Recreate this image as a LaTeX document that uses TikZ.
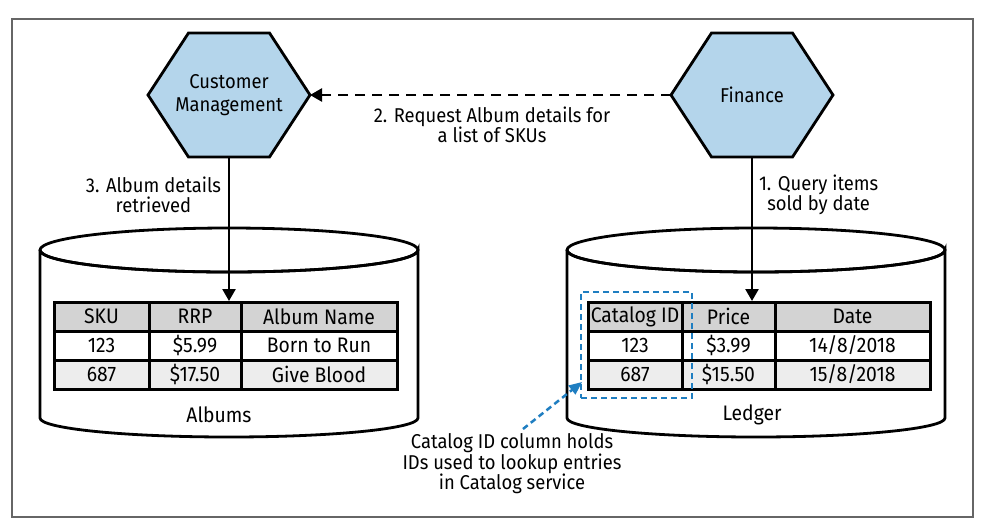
\documentclass[tikz,border=0pt]{standalone}
\usepackage{fontspec}
\setmainfont{Fira Sans}[FakeStretch=0.92]
\usetikzlibrary{arrows.meta,calc}
\definecolor{hexblue}{HTML}{B4D5EB}
\definecolor{hdrgray}{HTML}{D3D3D3}
\definecolor{rowgray}{HTML}{EDEDED}
\definecolor{noteblue}{HTML}{1F7EC1}
\begin{document}
\begin{tikzpicture}[x=1pt,y=-1pt,
  every node/.style={inner sep=0pt,outer sep=0pt},
  hexnode/.style={minimum width=162pt,minimum height=124pt,align=center,font=\fontsize{20}{23}\selectfont},
  hexline/.style={draw=black,line width=2.8pt,fill=hexblue,line join=miter},
  lbl/.style={align=center,font=\fontsize{20}{20.5}\selectfont},
  cell/.style={font=\fontsize{21}{22}\selectfont},
  dbline/.style={draw=black,line width=2.8pt},
  tbl/.style={draw=black,line width=3pt},
  conn/.style={draw=black,line width=2.5pt,-{Triangle[length=12pt,width=13pt]}},
  dconn/.style={conn,dash pattern=on 10pt off 7pt},
  bluebox/.style={draw=noteblue,line width=2.5pt,dash pattern=on 6pt off 4pt},
  blueconn/.style={draw=noteblue,line width=2.5pt,dash pattern=on 6pt off 4pt,-{Triangle[length=13pt,width=11pt]}}
]
\useasboundingbox (0,0) rectangle (984,531);
\draw[color=black!60,line width=1.4pt] (12,19) rectangle (973,517);

% hexagons
\node[hexnode] (cm) at (229,95) {};
\node[hexnode] (fin) at (752,95) {};
\foreach \h in {cm,fin}{
  \path[hexline] (\h.west) -- ($(\h.north west)!0.25!(\h.north east)$) -- ($(\h.north west)!0.75!(\h.north east)$)
    -- (\h.east) -- ($(\h.south west)!0.75!(\h.south east)$) -- ($(\h.south west)!0.25!(\h.south east)$) -- cycle;
}
\node[hexnode] (cmtext) at (229,95) {Customer\\Management};
\node[hexnode] (fintext) at (752,95) {Finance};

% cylinders
\foreach \cx/\nm in {229/alb,756/led}{
  \path[dbline,fill=white] (\cx-189,250) -- (\cx-189,418) arc[start angle=180,end angle=360,x radius=189,y radius=-19] -- (\cx+189,250)
     arc[start angle=0,end angle=180,x radius=189,y radius=22];
  \draw[dbline] (\cx,250) ellipse[x radius=189,y radius=22];
}

% Albums table
\fill[hdrgray] (54,302) rectangle (397,331);
\fill[white] (54,331) rectangle (397,360);
\fill[rowgray] (54,360) rectangle (397,389);
\draw[tbl] (54,302) rectangle (397,389);
\draw[tbl] (54,331) -- (397,331) (54,360) -- (397,360) (149,302) -- (149,389) (241,302) -- (241,389);
\node[cell] (a11) at (101.5,316.5) {SKU};
\node[cell] (a12) at (195,316.5) {RRP};
\node[cell] (a13) at (319,316.5) {Album Name};
\node[cell] (a21) at (101.5,345.5) {123};
\node[cell] (a22) at (195,345.5) {\$5.99};
\node[cell] (a23) at (319,345.5) {Born to Run};
\node[cell] (a31) at (101.5,374.5) {687};
\node[cell] (a32) at (195,374.5) {\$17.50};
\node[cell] (a33) at (319,374.5) {Give Blood};
\node[cell] (albname) at (219,415) {Albums};
\coordinate (albtop) at (229,301);

% Ledger table
\fill[hdrgray] (588,302) rectangle (930,331);
\fill[white] (588,331) rectangle (930,360);
\fill[rowgray] (588,360) rectangle (930,389);
\draw[tbl] (588,302) rectangle (930,389);
\draw[tbl] (588,331) -- (930,331) (588,360) -- (930,360) (682,302) -- (682,389) (775,302) -- (775,389);
\node[cell] (l11) at (635,316.5) {Catalog ID};
\node[cell] (l12) at (728.5,316.5) {Price};
\node[cell] (l13) at (852.5,316.5) {Date};
\node[cell] (l21) at (635,345.5) {123};
\node[cell] (l22) at (728.5,345.5) {\$3.99};
\node[cell] (l23) at (852.5,345.5) {14/8/2018};
\node[cell] (l31) at (635,374.5) {687};
\node[cell] (l32) at (728.5,374.5) {\$15.50};
\node[cell] (l33) at (852.5,374.5) {15/8/2018};
\node[cell] (ledname) at (752,415) {Ledger};
\coordinate (ledtop) at (752,301);

% catalog ID highlight
\node[bluebox,minimum width=111pt,minimum height=106pt] (catbox) at (636.5,345) {};
\coordinate (catin) at (582,382);

% connectors
\draw[dconn] (fin.west) -- (cm.east);
\draw[conn] (cm.south) -- (albtop);
\draw[conn] (fin.south) -- (ledtop);

% labels
\node[lbl] (l2) at (492,125) {2. Request Album details for\\a list of SKUs};
\node[lbl,anchor=east] (l3) at (221,195) {3. Album details\\retrieved};
\node[lbl,anchor=west] (l1) at (759,195) {1. Query items\\sold by date};
\node[lbl] (note) at (512,464) {Catalog ID column holds\\IDs used to lookup entries\\in Catalog service};
\coordinate (notetop) at (523,429);
\draw[blueconn] (notetop) -- (catin);
\end{tikzpicture}
\end{document}
